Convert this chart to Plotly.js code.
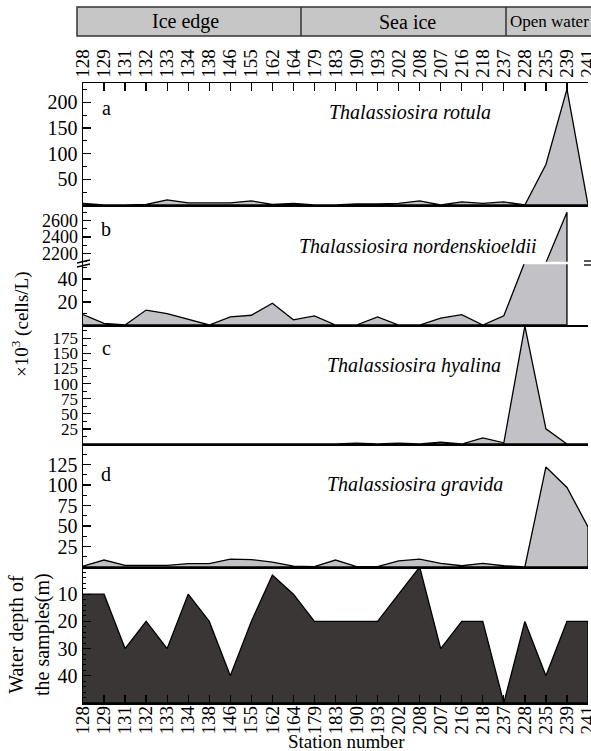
<!DOCTYPE html>
<html>
<head>
<meta charset="utf-8">
<script src="https://cdn.plot.ly/plotly-3.0.1.min.js"></script>
<style>html,body{margin:0;padding:0;background:#fff;}#chart{width:591px;height:751px;}</style>
</head>
<body>
<div id="chart"></div>
<script>
// ---- data ----
const stations = ['128','129','131','132','133','134','138','146','155','162','164','179','183','190','193','202','208','207','216','218','237','228','235','239','241'];
const rotula = [3,0,0,1,10,4,4,4,8,1,3,0,0,2,2,3,8,0,6,3,6,0,79,226,0];
const nordenskioeldii = [9,1.5,0,13,10,5,0,7,8.5,19,4.5,8,0,0,7,0,0,6,9,0,8,55,2085,2700,null];
const hyalina = [0,0,0,0,0,0,0,0,0,0,0,0,0,1.5,0,1.5,0,3,0,10,2,195,25,0,0];
const gravida = [1,8.5,2,2,2,4,4,9.5,9,6,1,0.5,8.5,0.5,0.5,7.5,9.5,4.5,1.5,4.5,1.5,0,122,97,49];
const depth = [10,10,30,20,30,10,20,40,20,3,10,20,20,20,20,10,0,30,20,20,50,20,40,20,20];
const regions = ['Ice edge','Sea ice','Open water'];
const species = ['Thalassiosira rotula','Thalassiosira nordenskioeldii','Thalassiosira hyalina','Thalassiosira gravida'];
const panelLetters = ['a','b','c','d'];
const depthAxisMax = 50;

const FONT = '"Liberation Serif", "Times New Roman", Times, serif';
const GREY = '#c2c2c6';
const DARK = '#3a3636';

function area(vals, base, xa, ya, fillcolor) {
  const xs = [], ys = [];
  vals.forEach((v, i) => { if (v !== null) { xs.push(stations[i]); ys.push(v); } });
  xs.push(xs[xs.length - 1], xs[0]);
  ys.push(base, base);
  return {type:'scatter', mode:'lines', x:xs, y:ys, fill:'toself', fillcolor:fillcolor,
          line:{color:'black', width:1.3}, xaxis:xa, yaxis:ya, hoverinfo:'skip', showlegend:false};
}

const traces = [
  area(depth, depthAxisMax, 'x', 'y', DARK),
  area(gravida, 0, 'x2', 'y2', GREY),
  area(hyalina, 0, 'x3', 'y3', GREY),
  area(nordenskioeldii, 0, 'x4', 'y4', GREY),
  area(nordenskioeldii, 0, 'x5', 'y5', GREY),
  area(rotula, 0, 'x6', 'y6', GREY)
];

function yax(domain, range, tickvals, minorDtick, anchor, minorLen, fsize) {
  return {domain:domain, range:range, anchor:anchor, tickmode:'array', tickvals:tickvals,
    showline:true, linecolor:'black', linewidth:1.5, ticks:'inside', ticklen:8, tickwidth:1.3, tickcolor:'black',
    showgrid:false, zeroline:false, tickfont:{family:FONT, size:fsize||20, color:'black'},
    minor:{tickmode:'linear', tick0:0, dtick:minorDtick, ticks:'inside', ticklen:minorLen||4, tickwidth:1, tickcolor:'black', showgrid:false}};
}
function xin(anchor, showline) {
  return {matches:'x', anchor:anchor, type:'category', showticklabels:false, ticks:'', showgrid:false, zeroline:false,
    showline:showline, linecolor:'black', linewidth:1.5};
}

const f = y => (703 - y) / 620;
const fx = x => (x - 83) / 505;

const layout = {
  width:591, height:751,
  margin:{l:83, r:3, t:83, b:48},
  paper_bgcolor:'white', plot_bgcolor:'white',
  showlegend:false,
  font:{family:FONT, color:'black', size:20},
  xaxis:{type:'category', range:[0,24], anchor:'y', tickmode:'array', tickvals:stations, ticktext:stations, tickangle:-90, ticks:'inside', ticklen:8, tickwidth:1.3, tickcolor:'black',
    ticklabelstandoff:-6,
    showline:true, linecolor:'black', linewidth:1.5, showgrid:false, zeroline:false, tickfont:{family:FONT, size:19, color:'black'}},
  xaxis2: xin('y2', true),
  xaxis3: xin('y3', true),
  xaxis4: xin('y4', true),
  xaxis5: xin('y5', false),
  xaxis6: Object.assign(xin('y6', true), {side:'top', showticklabels:true, tickmode:'array', tickvals:stations, ticktext:stations, tickangle:-90, ticks:'inside', ticklen:8, tickwidth:1.3, tickcolor:'black', mirror:true, tickfont:{family:FONT, size:19, color:'black'}}),
  yaxis:  yax([0, f(567)], [depthAxisMax, 0], [10,20,30,40], 2, 'x', 3),
  yaxis2: yax([f(567), f(444)], [0, 150], [25,50,75,100,125], 12.5, 'x2'),
  yaxis3: yax([f(444), f(325)], [0, 197], [25,50,75,100,125,150,175], 12.5, 'x3', 4, 17),
  yaxis4: yax([f(325), f(263)], [0, 54], [20,40], 10, 'x4'),
  yaxis5: yax([f(263), f(205)], [2080, 2790], [2200,2400,2600], 100, 'x5', 4, 18),
  yaxis6: yax([f(205), 1], [0, 238], [50,100,150,200], 25, 'x6'),
  shapes:[
    {type:'rect', xref:'paper', yref:'paper', x0:fx(77), x1:fx(593), y0:f(36), y1:f(7), fillcolor:'#c6c6c6', line:{color:'#333', width:1.5}, layer:'above'},
    {type:'line', xref:'paper', yref:'paper', x0:fx(301), x1:fx(301), y0:f(36), y1:f(7), line:{color:'#333', width:1.5}, layer:'above'},
    {type:'line', xref:'paper', yref:'paper', x0:fx(506), x1:fx(506), y0:f(36), y1:f(7), line:{color:'#333', width:1.5}, layer:'above'},
    {type:'line', xref:'paper', yref:'paper', x0:fx(83), x1:1, y0:f(263), y1:f(263), line:{color:'white', width:2.5}, layer:'above'},
    {type:'line', xref:'paper', yref:'paper', x0:fx(77), x1:fx(90), y0:f(263), y1:f(260), line:{color:'black', width:1.3}, layer:'above'},
    {type:'line', xref:'paper', yref:'paper', x0:fx(77), x1:fx(90), y0:f(267), y1:f(264), line:{color:'black', width:1.3}, layer:'above'},
    {type:'line', xref:'paper', yref:'paper', x0:fx(584), x1:fx(591), y0:f(261), y1:f(261), line:{color:'black', width:1.3}, layer:'above'},
    {type:'line', xref:'paper', yref:'paper', x0:fx(584), x1:fx(591), y0:f(265), y1:f(265), line:{color:'black', width:1.3}, layer:'above'}
  ],
  annotations:[
    {text:regions[0], xref:'paper', yref:'paper', x:fx(185), y:f(21.5), xanchor:'center', yanchor:'middle', showarrow:false, font:{family:FONT, size:20, color:'black'}},
    {text:regions[1], xref:'paper', yref:'paper', x:fx(407), y:f(21.5), xanchor:'center', yanchor:'middle', showarrow:false, font:{family:FONT, size:20, color:'black'}},
    {text:regions[2], xref:'paper', yref:'paper', x:fx(508), y:f(21.5), xanchor:'left', yanchor:'middle', showarrow:false, font:{family:FONT, size:17, color:'black'}},
    {text:species[0], xref:'paper', yref:'paper', x:fx(410), y:f(112), xanchor:'center', yanchor:'middle', showarrow:false, font:{family:FONT, size:20, color:'black', style:'italic'}},
    {text:species[1], xref:'paper', yref:'paper', x:fx(418), y:f(246), xanchor:'center', yanchor:'middle', showarrow:false, font:{family:FONT, size:20, color:'black', style:'italic'}},
    {text:species[2], xref:'paper', yref:'paper', x:fx(414), y:f(365), xanchor:'center', yanchor:'middle', showarrow:false, font:{family:FONT, size:20, color:'black', style:'italic'}},
    {text:species[3], xref:'paper', yref:'paper', x:fx(415), y:f(484), xanchor:'center', yanchor:'middle', showarrow:false, font:{family:FONT, size:20, color:'black', style:'italic'}},
    {text:panelLetters[0], xref:'paper', yref:'paper', x:fx(106), y:f(108), xanchor:'center', yanchor:'middle', showarrow:false, font:{family:FONT, size:20, color:'black'}},
    {text:panelLetters[1], xref:'paper', yref:'paper', x:fx(106), y:f(229), xanchor:'center', yanchor:'middle', showarrow:false, font:{family:FONT, size:20, color:'black'}},
    {text:panelLetters[2], xref:'paper', yref:'paper', x:fx(106), y:f(348), xanchor:'center', yanchor:'middle', showarrow:false, font:{family:FONT, size:20, color:'black'}},
    {text:panelLetters[3], xref:'paper', yref:'paper', x:fx(106), y:f(474), xanchor:'center', yanchor:'middle', showarrow:false, font:{family:FONT, size:20, color:'black'}},
    {text:'×10<sup>3</sup> (cells/L)', xref:'paper', yref:'paper', x:fx(20), y:f(325), xanchor:'center', yanchor:'middle', textangle:-90, showarrow:false, font:{family:FONT, size:19, color:'black'}},
    {text:'Water depth of<br>the samples(m)', xref:'paper', yref:'paper', x:fx(29), y:f(635), xanchor:'center', yanchor:'middle', textangle:-90, showarrow:false, font:{family:FONT, size:20, color:'black'}},
    {text:'Station number', xref:'paper', yref:'paper', x:fx(346), y:f(741), xanchor:'center', yanchor:'middle', showarrow:false, font:{family:FONT, size:19, color:'black'}}
  ]
};

Plotly.newPlot('chart', traces, layout, {staticPlot:true, displayModeBar:false});
</script>
</body>
</html>
